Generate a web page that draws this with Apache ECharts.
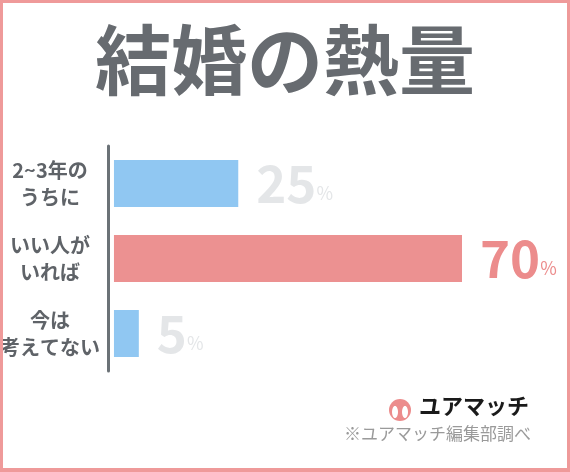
<!DOCTYPE html>
<html>
<head>
<meta charset="utf-8">
<script src="https://cdn.jsdelivr.net/npm/echarts@6/dist/echarts.min.js"></script>
<style>
  html, body { margin: 0; padding: 0; background: #fff; }
  #chart { width: 570px; height: 472px; box-sizing: border-box; border: 3px solid #ef9a9a; border-bottom-width: 4px; }
</style>
</head>
<body>
<div id="chart"></div>
<script>
const categories = ["2~3年の\nうちに", "いい人が\nいれば", "今は\n考えてない"];
const values = [25, 70, 5];
const barColors = ["#90c7f2", "#ec9191", "#90c7f2"];
const labelColors = ["#e4e6e8", "#ec8c8c", "#e4e6e8"];

const font = "'Noto Sans CJK JP', sans-serif";
const chart = echarts.init(document.getElementById("chart"));

const option = {
  animation: false,
  title: {
    text: "結婚の熱量",
    left: "center",
    top: 14,
    textStyle: { fontFamily: font, fontSize: 76, fontWeight: "bold", color: "#676b70" },
  },
  grid: { left: 105, right: 105, top: 143, bottom: 97, outerBoundsMode: "none" },
  xAxis: {
    type: "value",
    min: -1.2,
    max: 70,
    show: false,
  },
  yAxis: {
    type: "category",
    inverse: true,
    data: categories,
    axisLine: { onZero: false, lineStyle: { color: "#6b7277", width: 3 } },
    axisTick: { show: false },
    axisLabel: {
      margin: 58,
      align: "center",
      fontFamily: font,
      fontSize: 20,
      fontWeight: "bold",
      lineHeight: 27,
      color: "#5f6368",
    },
  },
  series: [
    {
      type: "bar",
      barWidth: 47,
      data: values.map((v, i) => ({
        value: v,
        itemStyle: { color: barColors[i] },
        label: {
          rich: {
            n: { fontFamily: font, fontSize: 51, fontWeight: "bold", color: labelColors[i] },
            p: { fontFamily: font, fontSize: 18, color: labelColors[i], padding: [20, 0, 0, 0] },
          },
        },
      })),
      label: {
        show: true,
        position: "right",
        distance: 18,
        formatter: (p) => "{n|" + p.value + "}{p|%}",
      },
    },
  ],
  graphic: [
    { type: "circle", shape: { cx: 397, cy: 407, r: 11 }, style: { fill: "#ec8c8c" } },
    { type: "ellipse", shape: { cx: 392, cy: 409, rx: 3, ry: 6 }, style: { fill: "#fff" } },
    { type: "ellipse", shape: { cx: 402, cy: 409, rx: 3, ry: 6 }, style: { fill: "#fff" } },
    {
      type: "text", left: 416, top: 392,
      style: { text: "ユアマッチ", font: "bold 22px " + font, fill: "#1a1a1a" },
    },
    {
      type: "text", left: 341, top: 422,
      style: { text: "※ユアマッチ編集部調べ", font: "17px " + font, fill: "#9a9a9a" },
    },
  ],
};

chart.setOption(option);
</script>
</body>
</html>
